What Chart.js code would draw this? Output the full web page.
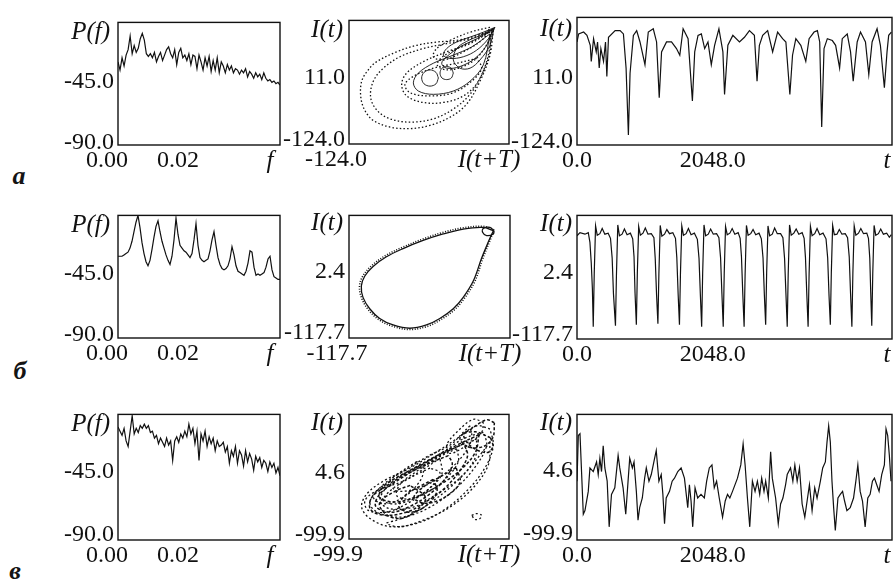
<!DOCTYPE html>
<html>
<head>
<meta charset="utf-8">
<script src="https://cdn.jsdelivr.net/npm/chart.js@4.4.0/dist/chart.umd.min.js"></script>
<style>
  html, body { margin:0; padding:0; background:#fff; }
  body { width:894px; height:580px; position:relative; overflow:hidden; }
  canvas { position:absolute; }
  .tag { position:absolute; font:italic bold 26px "Liberation Serif", serif; color:#141414; transform:translate(-50%,-50%); }
</style>
</head>
<body>
<div class="tag" style="left:19px;top:176px">а</div>
<div class="tag" style="left:20px;top:371px">б</div>
<div class="tag" style="left:15px;top:571px">в</div>
<script>
// ---- spectra P(f), dB, evenly sampled from f = 0 to SPEC_FMAX ----
const SPEC_FMAX = 0.0456;
const specA = [-29,-35,-26,-32,-24,-20,-10,-23,-17,-22,-19,-12,-8,-13,-23,-25,-23,-26,-22,-29,
  -25,-22,-28,-24,-20,-18,-23,-26,-20,-31,-22,-19,-26,-24,-28,-23,-31,-24,-25,-34,
  -24,-29,-35,-26,-32,-25,-36,-28,-35,-26,-37,-29,-32,-37,-31,-35,-32,-37,-34,-35,
  -38,-35,-37,-34,-40,-36,-38,-41,-37,-40,-38,-42,-37,-41,-43,-42,-44,-43,-45,-44,-46];
const specB = [-30,-30,-30,-29,-28,-27,-24,-19,-12,-5,0,-9,-20,-28,-34,-37,-33,-25,-16,-8,
  -4,-12,-19,-24,-29,-33,-36,-30,-18,-2,-14,-22,-24,-26,-27,-29,-31,-28,-18,-6,
  -22,-31,-33,-34,-33,-32,-26,-18,-12,-22,-31,-36,-39,-40,-39,-37,-32,-23,-29,-37,
  -41,-42,-43,-44,-41,-35,-26,-27,-38,-44,-43,-44,-43,-42,-38,-32,-30,-40,-45,-46,-47,-47];
const specC = [-9,-12,-15,-10,-19,-23,-12,-1,-14,-10,-13,-8,-10,-7,-10,-8,-13,-12,-17,-15,
  -21,-17,-20,-23,-17,-22,-19,-33,-19,-16,-20,-14,-17,-12,-16,-7,-14,-10,-21,-12,
  -33,-14,-19,-12,-23,-16,-21,-17,-26,-19,-23,-22,-20,-27,-23,-35,-26,-30,-23,-35,
  -26,-29,-37,-26,-34,-28,-32,-40,-30,-34,-31,-38,-33,-35,-41,-34,-38,-35,-42,-38,-44];

// ---- time series I(t) ----
const tA = [0,25,100,150,200,215,250,290,310,335,360,400,430,450,475,575,650,700,740,775,
  800,850,900,950,1025,1075,1150,1200,1240,1275,1350,1425,1500,1550,1600,1675,1740,1775,1825,1875,
  1925,1975,2025,2075,2140,2200,2225,2275,2350,2450,2525,2600,2675,2715,2750,2800,2875,2950,3025,3100,
  3150,3210,3250,3300,3375,3450,3500,3575,3625,3660,3690,3725,3775,3850,3900,3960,4000,4075,4125,4165,
  4225,4275,4350,4400,4450,4525,4575,4635,4675,4700,4740];
const iA = [94,111,115,108,87,53,101,73,94,39,80,53,94,21,104,118,118,111,39,-103,
  28,108,118,94,46,115,122,94,-24,73,94,94,80,66,122,101,-31,73,108,111,
  80,94,46,87,122,73,-17,87,108,94,104,118,108,11,87,108,118,73,115,101,
  94,-17,66,101,87,53,101,115,118,94,-86,80,101,97,87,39,101,111,73,11,
  94,115,94,25,94,122,87,-3,73,108,115];

const tB = [0,45,120,170,195,215,232,245,
  260,280,305,345,380,420,470,505,530,550,580,
  595,615,640,680,715,755,805,840,860,875,895,
  910,930,955,995,1030,1070,1120,1160,1180,1200,1220,
  1235,1255,1280,1320,1355,1395,1445,1485,1505,1525,1545,
  1560,1580,1605,1645,1680,1720,1770,1815,1840,1860,1880,
  1895,1915,1940,1980,2015,2055,2105,2140,2165,2185,2205,
  2220,2240,2265,2305,2340,2380,2430,2460,2480,2500,2520,
  2535,2555,2580,2620,2655,2695,2745,2780,2805,2825,2845,
  2860,2880,2905,2945,2980,3020,3070,3105,3130,3150,3170,
  3185,3205,3230,3270,3305,3345,3395,3425,3445,3465,3485,
  3500,3520,3545,3585,3620,3660,3710,3755,3780,3800,3820,
  3835,3855,3880,3920,3955,3995,4045,4080,4105,4125,4145,
  4160,4180,4205,4245,4280,4320,4370,4395,4415,4430,4445,
  4460,4480,4505,4545,4580,4620,4670,4710,4740];
const iB = [83,89,86,89,70,30,-20,-94,
  10,102,84,87,97,86,88,78,40,-30,-92,
  8,104,83,86,96,85,88,77,42,-28,-90,
  12,101,84,88,98,86,87,79,38,-32,-88,
  10,103,82,86,95,87,89,78,41,-30,-90,
  9,102,84,87,97,85,88,76,39,-31,-94,
  11,104,83,86,96,86,87,79,40,-29,-94,
  10,101,85,88,97,86,89,78,42,-30,-94,
  8,103,84,87,95,85,88,77,40,-31,-90,
  12,102,83,86,98,87,87,79,39,-28,-94,
  10,104,84,88,96,86,89,78,41,-30,-94,
  9,101,83,87,97,85,88,77,40,-32,-90,
  11,103,85,86,95,86,87,79,42,-29,-94,
  10,102,84,88,97,87,88,78,39,-30,-92,
  10,103,84,87,96,86,88,80,85];

const tC = [0,20,45,95,120,170,195,245,295,320,345,370,395,420,455,485,520,570,620,645,
  695,735,770,795,835,860,895,920,945,985,1020,1045,1085,1120,1170,1195,1235,1270,1295,1320,
  1345,1395,1435,1470,1520,1570,1620,1670,1695,1720,1745,1780,1820,1870,1920,1955,1995,2035,2070,2105,
  2145,2195,2235,2270,2305,2345,2420,2470,2505,2535,2570,2605,2645,2685,2720,2755,2785,2820,2845,2885,
  2920,2945,2995,3035,3070,3105,3145,3170,3220,3255,3285,3320,3355,3395,3435,3470,3505,3545,3585,3620,
  3670,3705,3745,3770,3795,3820,3845,3870,3895,3935,3970,4005,4035,4070,4120,4170,4205,4235,4270,4305,
  4345,4385,4420,4455,4485,4520,4555,4595,4635,4660,4685,4710,4735];
const iC = [-2,74,77,-57,-51,-19,20,14,30,9,36,14,57,20,-2,-78,-24,-13,41,20,
  -13,-57,-2,36,20,30,-19,-67,-46,-30,3,20,-2,9,36,49,-2,9,-24,-73,
  -30,-19,-2,3,14,20,3,-46,-8,-35,-78,-13,-30,-24,-30,-2,20,25,-13,-2,
  -30,-62,-35,-24,-30,-19,3,25,60,25,-30,-78,-2,-19,-2,-24,3,-19,-2,-30,
  47,3,-30,-73,-40,-30,-8,9,20,-2,25,-2,20,-40,-62,-35,-8,-51,-13,-30,
  -2,20,30,63,90,63,-2,-46,-84,-30,-24,-19,-35,-51,-46,-30,-2,25,-19,-35,
  -78,-30,-24,-2,3,-8,-19,9,25,85,74,41,-2];

// ---- phase portraits I(t) vs I(t+T), each loop is a list of [I(t+T), I(t)] ----
const phaseADotted = [
  [[119.6,127.3],[91.4,113],[57.7,102.3],[24,98.8],[-9.8,91.6],[-43.6,77.3],[-77.3,55.9],[-91.4,38],[-102.6,13.1],[-104,-22.6],
   [-97,-51.2],[-83,-72.6],[-54.8,-86.9],[-21,-90.4],[12.7,-83.3],[46.4,-65.5],[74.6,-36.9],[97,13.1],[113.9,70.2],[119.6,127.3]],
  [[113.9,120.2],[80.2,105.9],[40.8,95.2],[1.4,84.5],[-38,66.6],[-66,41.6],[-83,13.1],[-87.4,-22.6],[-76.2,-51.2],[-54.8,-69],
   [-21,-76.2],[18.3,-69],[52,-47.6],[80.2,-15.5],[99.9,27.4],[113.9,77.3],[113.9,120.2]],
  [[116.8,123.8],[80.2,95.2],[40.8,77.3],[1.4,55.9],[-26.7,30.9],[-35.1,6],[-26.7,-19],[1.4,-33.3],[35.2,-33.3],[69,-19],
   [94.3,13.1],[111.1,70.2],[116.8,123.8]],
  [[113.9,131],[80.2,120.2],[46.4,102.3],[24,84.5],[18.3,66.6],[35.2,59.5],[69,77.3],[102.7,105.9],[113.9,131]],
  [[91.4,63],[57.7,52.4],[18.3,41.6],[-15.4,23.8],[-29.5,6],[-21,-11.9],[12.7,-19],[52,-11.9],[83,13.1],[99.9,41.6],[91.4,63]],
  [[118,125],[96,108],[70,92],[48,78],[30,62],[25,48],[40,38],[66,44],[90,62],[108,92],[118,125]]
];
const phaseASolid = [
  [[113.9,116.6],[83,88],[52,70.2],[18.3,52.4],[-7,30.9],[-15.4,9.5],[-7,-8.3],[18.3,-15.5],[52,-8.3],[80.2,13.1],[102.7,48.8],[113.9,116.6]],
  [[26.8,20.2],[22.8,32.4],[12.7,38],[2.6,32.4],[-1.4,20.2],[2.6,7.4],[12.7,2.4],[22.8,7.4],[26.8,20.2]],
  [[52,30.9],[48.7,41.6],[40.8,45.2],[32.9,41.6],[29.6,30.9],[32.9,20.2],[40.8,16.7],[48.7,20.2],[52,30.9]],
  [[119.6,127.3],[91.4,105.9],[63.3,88],[40.8,66.6],[32.4,52.4],[40.8,41.6],[63.3,45.2],[88.6,63],[108.3,91.6],[119.6,127.3]],
  [[122.4,131],[102.7,120.2],[80.2,109.5],[57.7,98.8],[40.8,84.5],[35.2,70.2],[46.4,63],[69,66.6],[91.4,80.9],[111.1,105.9],[122.4,131]],
  [[120.7,128.8],[97,113],[74.6,100.2],[57.7,84.5],[52,59.5],[63.3,41.6],[80.2,41.6],[97,59.5],[113.9,91.6],[120.7,128.8]]
];

const phaseBSolid = [
  [[97.6,92.5],[82.6,98.9],[52.7,95.7],[22.8,86.1],[-7.1,73.4],[-37,57.5],[-61.9,41.5],[-81.8,22.4],[-94.3,3.3],[-99.3,-15.8],
   [-96.8,-38.1],[-86.8,-60.4],[-71.9,-79.5],[-51.9,-92.2],[-27,-98.6],[-2.1,-92.2],[17.8,-79.5],[37.8,-60.4],[52.7,-38.1],
   [67.7,-6.2],[80.1,38.4],[90.1,70.2],[97.6,92.5]],
  [[98.6,92.5],[92.6,98.9],[82.6,96.9],[81.6,89.3],[87.6,82.9],[97.6,86.1],[98.6,92.5]]
];
const phaseBDotted = [
  [[99,94],[83,101],[52,98],[22,89],[-8,76],[-38,60],[-63,44],[-84,24],[-97,4],[-102,-16],[-99,-39],[-89,-62],[-73,-82],
   [-52,-95],[-27,-101],[-1,-95],[19,-82],[40,-62],[55,-39],[70,-7],[82,38],[92,71],[99,94]]
];

const phaseCDotted = [
  [[84.3,84.5],[66.9,90],[40.7,68.2],[14.6,46.3],[-20.2,19.1],[-55.1,-2.8],[-76.8,-24.6],[-83.4,-46.4],[-72.5,-65.5],[-46.3,-79.2],
   [-11.5,-73.7],[23.3,-51.9],[58.1,-13.7],[79.9,24.5],[88.6,57.3],[84.3,84.5]],
  [[75.6,79.1],[49.4,68.2],[23.3,46.3],[-7.2,24.5],[-37.6,2.7],[-63.8,-19.1],[-72.5,-41],[-59.4,-57.3],[-28.9,-62.8],[5.9,-46.4],
   [40.7,-13.7],[66.9,24.5],[79.9,57.3],[75.6,79.1]],
  [[66.9,68.2],[36.4,51.8],[5.9,30],[-24.6,8.1],[-50.7,-13.7],[-59.4,-35.5],[-46.3,-49.2],[-15.9,-46.4],[14.6,-24.6],[45.1,2.7],[64.7,35.4],[66.9,68.2]],
  [[58.1,90],[49.4,79.1],[32,57.3],[5.9,40.9],[-28.9,13.6],[-46.3,-2.8],[-37.6,-19.1],[-7.2,-13.7],[23.3,8.1],[49.4,40.9],[60.3,68.2],[58.1,90]],
  [[40.7,51.8],[14.6,35.4],[-11.5,13.6],[-33.3,-8.2],[-37.6,-27.3],[-20.2,-32.8],[5.9,-19.1],[27.7,2.7],[42.9,30],[40.7,51.8]],
  [[19,35.4],[-7.2,13.6],[-28.9,-2.8],[-63.8,-19.1],[-79,-35.5],[-74.6,-51.9],[-50.7,-54.6],[-24.6,-41],[1.5,-19.1],[21.1,8.1],[19,35.4]],
  [[84.3,62.7],[71.2,40.9],[53.8,13.6],[32,-13.7],[10.3,-35.5],[-15.9,-57.3],[-37.6,-68.2],[-50.7,-73.7],[-33.3,-79.2],[-2.8,-68.2],
   [32,-46.4],[62.5,-13.7],[82.1,24.5],[84.3,62.7]],
  [[75.6,95.5],[62.5,100.9],[40.7,79.1],[27.7,57.3],[32,43.6],[53.8,57.3],[73.4,79.1],[75.6,95.5]],
  [[5.9,19.1],[-20.2,2.7],[-46.3,-19.1],[-55.1,-35.5],[-37.6,-41],[-11.5,-30],[10.3,-8.2],[19,10.9],[5.9,19.1]],
  [[-11.5,30],[-37.6,8.1],[-59.4,-13.7],[-68.1,-30],[-55.1,-41],[-28.9,-30],[-7.2,-2.8],[-2.8,19.1],[-11.5,30]],
  [[60.3,-60.1],[66.9,-57.3],[73.4,-60.1],[71.2,-65.5],[64.7,-67.2],[60.3,-60.1]]
];
const phaseCDashed = [
  [[30,40],[10,30],[-15,15],[-40,-5],[-60,-25],[-65,-45],[-45,-55],[-20,-45],[5,-25],[25,0],[35,25],[30,40]],
  [[50,60],[25,45],[0,28],[-25,10],[-50,-10],[-70,-30],[-72,-50],[-55,-60],[-25,-55],[0,-38],[25,-15],[45,15],[55,40],[50,60]],
  [[70,75],[45,60],[15,40],[-10,22],[-35,5],[-55,-12],[-60,-30],[-40,-38],[-10,-28],[20,-8],[45,15],[65,45],[70,75]],
  [[90,95],[80,100],[60,85],[45,70],[55,55],[75,55],[88,70],[90,95]],
  [[85,70],[65,80],[50,75],[60,55],[80,45],[88,55],[85,70]],
  [[-20,-10],[-40,-20],[-60,-40],[-50,-60],[-30,-65],[-10,-50],[0,-30],[-20,-10]],
  [[10,0],[-5,-10],[-25,-25],[-35,-45],[-20,-55],[0,-45],[15,-20],[10,0]],
  [[40,20],[20,5],[0,-10],[-15,-30],[0,-40],[25,-30],[45,-5],[40,20]]
];

// ---- tick labels ----
const specXTicks = [0, 0.02], specXLabels = ['0.00', '0.02'];
const specYTicks = [-90, -45], specYLabels = ['-90.0', '-45.0'];
const tsXTicks = [0, 2048], tsXLabels = ['0.0', '2048.0'];
const rangeA = [-124, 146], midA = 11, labelsA = ['-124.0', '11.0'];
const rangeB = [-117.7, 122.5], midB = 2.4, labelsB = ['-117.7', '2.4'];
const rangeC = [-99.9, 109.1], midC = 4.6, labelsC = ['-99.9', '4.6'];

const FONT = '"Liberation Serif", "Times New Roman", serif';
const INK = '#111';
const YW = 110, XH = 36, PT = 16;

// frame + axis names (P(f), I(t), f, t, I(t+T))
const framePlugin = {
  id: 'frame',
  afterDraw(chart, args, o){
    const a = chart.chartArea, c = chart.ctx;
    c.save();
    c.strokeStyle = INK; c.lineWidth = 1.4;
    c.strokeRect(a.left, a.top, a.right - a.left, a.bottom - a.top);
    c.fillStyle = INK; c.font = 'italic 25px ' + FONT; c.textBaseline = 'middle';
    if(o.yName){ c.textAlign = 'right'; c.fillText(o.yName, a.left - o.yGap, a.top + o.yDy); }
    if(o.xName){ c.textAlign = 'center'; c.fillText(o.xName, a.right + o.xDx, a.bottom + o.xDy); }
    c.restore();
  }
};

function axis(a, dir){
  return {
    type: 'linear', min: a.min, max: a.max,
    afterBuildTicks: s => { s.ticks = a.ticks.map(v => ({ value: v })); },
    afterFit: s => { if(dir === 'x') s.height = XH; else s.width = YW; },
    grid: { display: false, drawTicks: false },
    border: { display: false },
    ticks: {
      autoSkip: false, maxRotation: 0, minRotation: 0,
      padding: dir === 'x' ? 1 : 4, labelOffset: a.off || 0,
      color: INK, font: { family: FONT, size: 24 },
      callback: (v, i) => a.labels[i]
    }
  };
}

function panel(box, x, y, names, datasets){
  const cv = document.createElement('canvas');
  cv.width = YW + box.w + box.pr;
  cv.height = PT + box.h + XH;
  cv.style.left = (box.x - YW) + 'px';
  cv.style.top = (box.y - PT) + 'px';
  document.body.appendChild(cv);
  new Chart(cv, {
    type: 'line',
    data: { datasets },
    options: {
      responsive: false, animation: false, events: [],
      layout: { padding: { top: PT, right: box.pr, left: 0, bottom: 0 } },
      plugins: { legend: { display: false }, tooltip: { enabled: false }, frame: names },
      scales: { x: axis(x, 'x'), y: axis(y, 'y') }
    },
    plugins: [framePlugin]
  });
}

const trace = pts => ({ data: pts, borderColor: INK, borderWidth: 1.2, pointRadius: 0, tension: 0 });
const specPts = arr => arr.map((v, i) => ({ x: i * SPEC_FMAX / (arr.length - 1), y: v }));
const tsPts = (t, v) => t.map((tt, i) => ({ x: tt, y: v[i] }));
const loops = (list, style) => list.map(l => Object.assign({
  data: l.map(p => ({ x: p[0], y: p[1] })), borderColor: INK, pointRadius: 0, tension: 0.35
}, style));

function specPanel(box, data, off){
  panel(box,
    { min: 0, max: SPEC_FMAX, ticks: specXTicks, labels: specXLabels, off: -11 },
    { min: -90, max: 0, ticks: specYTicks, labels: specYLabels, off },
    { yName: 'P(f)', yGap: 8, yDy: 10, xName: 'f', xDx: -10, xDy: 16 },
    [trace(specPts(data))]);
}
function phasePanel(box, range, mid, labels, xoff, yoff, yDy, sets){
  panel(box,
    { min: range[0], max: range[1], ticks: [range[0]], labels: [labels[0]], off: xoff },
    { min: range[0], max: range[1], ticks: [range[0], mid], labels, off: yoff },
    { yName: 'I(t)', yGap: 6, yDy, xName: 'I(t+T)', xDx: -20, xDy: 16 },
    sets);
}
function tsPanel(box, t, v, range, mid, labels, yoff, yDy){
  panel(box,
    { min: 0, max: 4750, ticks: tsXTicks, labels: tsXLabels, off: 0 },
    { min: range[0], max: range[1], ticks: [range[0], mid], labels, off: yoff },
    { yName: 'I(t)', yGap: 5, yDy, xName: 't', xDx: -5, xDy: 16 },
    [trace(tsPts(t, v))]);
}

// row а
specPanel({ x:118, y:20, w:162, h:125, pr:12 }, specA, -2);
phasePanel({ x:349, y:18, w:160, h:126, pr:30 }, rangeA, midA, labelsA, -13, -4, 10,
  loops(phaseADotted, { borderWidth: 1.3, borderDash: [1.5, 2.2] })
    .concat(loops(phaseASolid, { borderWidth: 0.9 })));
tsPanel({ x:577, y:15, w:315, h:130, pr:2 }, tA, iA, rangeA, midA, labelsA, -3, 12);

// row б
specPanel({ x:118, y:213, w:162, h:125, pr:12 }, specB, -3);
phasePanel({ x:349, y:213, w:161, h:125, pr:30 }, rangeB, midB, labelsB, -12, -5, 8,
  loops(phaseBSolid, { borderWidth: 1.3 })
    .concat(loops(phaseBDotted, { borderWidth: 1.6, borderDash: [1, 1.6] })));
tsPanel({ x:577, y:213, w:315, h:126, pr:2 }, tB, iB, rangeB, midB, labelsB, -4, 9);

// row в
specPanel({ x:118, y:412, w:162, h:128, pr:12 }, specC, -5);
phasePanel({ x:349, y:412, w:160, h:127, pr:30 }, rangeC, midC, labelsC, -11, -4, 9,
  loops(phaseCDotted, { borderWidth: 1.3, borderDash: [2, 2.4] })
    .concat(loops(phaseCDashed, { borderWidth: 1.5, borderDash: [3, 2] })));
tsPanel({ x:577, y:412, w:315, h:128, pr:2 }, tC, iC, rangeC, midC, labelsC, -6, 9);
</script>
</body>
</html>
